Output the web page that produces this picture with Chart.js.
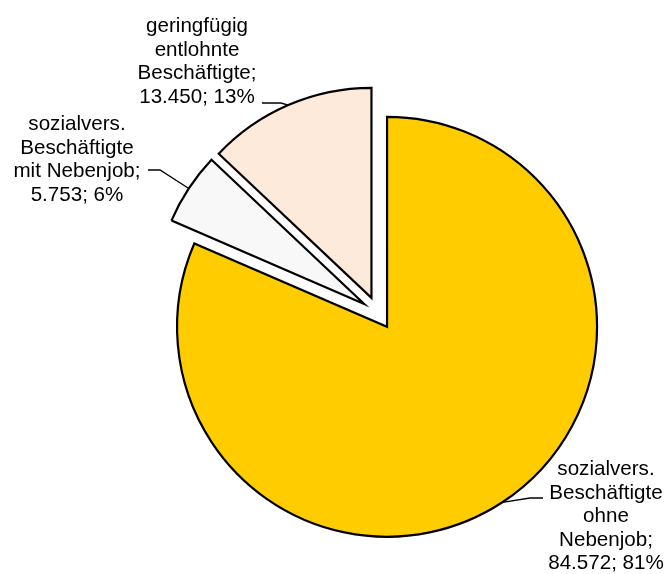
<!DOCTYPE html>
<html>
<head>
<meta charset="utf-8">
<script src="https://cdn.jsdelivr.net/npm/chart.js@4.4.1/dist/chart.umd.min.js"></script>
<style>
  html, body { margin: 0; padding: 0; background: #fff; }
  canvas { display: block; }
</style>
</head>
<body>
<canvas id="myChart" width="665" height="574"></canvas>
<script>
// data
let categoryLines = [
  ['sozialvers.', 'Beschäftigte', 'ohne', 'Nebenjob'],
  ['sozialvers.', 'Beschäftigte', 'mit Nebenjob'],
  ['geringfügig', 'entlohnte', 'Beschäftigte']
];
let categories = categoryLines.map(l => l.join(' '));
let values = [84572, 5753, 13450];
let sliceColors = ['#FFCC00', '#F8F8F8', '#FDEADA'];

// label placement (text centre x, first baseline y, end of leader near text, elbow)
let labelPos = [
  { x: 606, y: 475, tx: 543, ty: 498, ex: 530, ey: 498 },
  { x: 77, y: 130, tx: 148, ty: 170, ex: 160, ey: 170 },
  { x: 197, y: 32, tx: 262, ty: 103, ex: 281, ey: 103 }
];
let shift = 16.5;
let lineH = 23.5;

function fmt(n) {
  return String(n).replace(/\B(?=(\d{3})+(?!\d))/g, '.');
}

let total = values.reduce((a, b) => a + b, 0);

let explode = {
  id: 'explode',
  beforeDatasetDraw(chart, args) {
    let ctx = chart.ctx;
    args.meta.data.forEach(arc => {
      let mid = (arc.startAngle + arc.endAngle) / 2;
      ctx.save();
      ctx.translate(Math.cos(mid) * shift, Math.sin(mid) * shift);
      arc.draw(ctx);
      ctx.restore();
    });
    return false;
  },
  afterDatasetsDraw(chart) {
    let ctx = chart.ctx;
    let meta = chart.getDatasetMeta(0);
    ctx.save();
    ctx.font = '20.6px "Liberation Sans", Arial, sans-serif';
    ctx.fillStyle = '#000';
    ctx.textAlign = 'center';
    ctx.textBaseline = 'alphabetic';
    meta.data.forEach((arc, i) => {
      let p = labelPos[i];
      let mid = (arc.startAngle + arc.endAngle) / 2;
      let r = arc.outerRadius;
      let px = arc.x + Math.cos(mid) * (shift + r);
      let py = arc.y + Math.sin(mid) * (shift + r);
      ctx.strokeStyle = '#000';
      ctx.lineWidth = 1.3;
      ctx.beginPath();
      ctx.moveTo(p.tx, p.ty);
      ctx.lineTo(p.ex, p.ey);
      ctx.lineTo(px, py);
      ctx.stroke();

      let lines = categoryLines[i].slice();
      lines[lines.length - 1] += ';';
      let pct = Math.round(values[i] / total * 100);
      lines.push(fmt(values[i]) + '; ' + pct + '%');
      lines.forEach((t, k) => ctx.fillText(t, p.x, p.y + k * lineH));
    });
    ctx.restore();
  }
};

let canvas = document.getElementById('myChart');
let ctx = canvas.getContext('2d');

let myChart = new Chart(ctx, {
  type: 'pie',
  data: {
    labels: categories,
    datasets: [{
      data: values,
      backgroundColor: sliceColors,
      borderColor: '#000',
      borderWidth: 2.2,
      borderJoinStyle: 'miter'
    }]
  },
  options: {
    responsive: false,
    animation: false,
    radius: 210,
    layout: { padding: { left: 91, top: 52 } },
    plugins: {
      legend: { display: false },
      tooltip: { enabled: false }
    }
  },
  plugins: [explode]
});
</script>
</body>
</html>
